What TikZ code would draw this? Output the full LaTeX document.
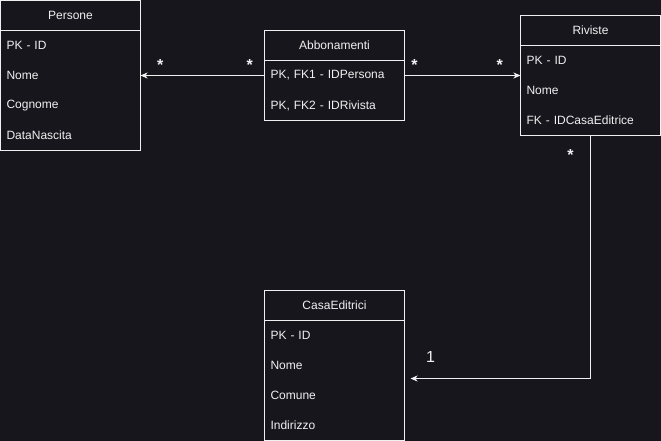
\documentclass[tikz,border=0pt]{standalone}
\usepackage{fontspec}
\setmainfont{Liberation Sans}
\usetikzlibrary{positioning,arrows.meta}
\definecolor{bgdark}{RGB}{24,22,29}
\definecolor{fg}{RGB}{240,240,240}

\begin{document}
\begin{tikzpicture}[x=1pt, y=-1pt, line width=1pt,
		head/.style={draw=fg, text=fg, anchor=north west, minimum width=140pt, minimum height=30pt,
			inner sep=0pt, outer sep=0pt, font=\fontsize{12}{14}\selectfont},
		field/.style={text=fg, minimum width=140pt, minimum height=30pt, text width=128pt,
			inner xsep=6pt, inner ysep=0pt, outer sep=0pt, align=left, font=\fontsize{12}{14}\selectfont},
		rel/.style={draw=fg, -{Stealth[length=7pt, width=6pt, inset=2pt]}},
		mult/.style={text=fg, anchor=base, inner sep=0pt, font=\fontsize{16}{18}\selectfont\bfseries},
		card/.style={text=fg, anchor=base, inner sep=0pt, font=\fontsize{16}{18}\selectfont}]
		\useasboundingbox (0,0) rectangle (661,441);
		\fill[bgdark] (0,0) rectangle (661,441);

		\node[head] (pers) at (0.5,0.5) {Persone};
		\node[field, below=0pt of pers] (pers1) {PK - ID};
		\node[field, below=0pt of pers1] (pers2) {Nome};
		\node[field, below=0pt of pers2] (pers3) {Cognome};
		\node[field, below=0pt of pers3] (pers4) {DataNascita};
		\draw[fg] (pers.south west) rectangle (pers4.south east);

		\node[head] (abb) at (264.5,30.5) {Abbonamenti};
		\node[field, below=0pt of abb] (abb1) {PK, FK1 - IDPersona};
		\node[field, below=0pt of abb1] (abb2) {PK, FK2 - IDRivista};
		\draw[fg] (abb.south west) rectangle (abb2.south east);

		\node[head] (riv) at (520.5,15.5) {Riviste};
		\node[field, below=0pt of riv] (riv1) {PK - ID};
		\node[field, below=0pt of riv1] (riv2) {Nome};
		\node[field, below=0pt of riv2] (riv3) {FK - IDCasaEditrice};
		\draw[fg] (riv.south west) rectangle (riv3.south east);

		\node[head] (casa) at (264.5,290.5) {CasaEditrici};
		\node[field, below=0pt of casa] (casa1) {PK - ID};
		\node[field, below=0pt of casa1] (casa2) {Nome};
		\node[field, below=0pt of casa2] (casa3) {Comune};
		\node[field, below=0pt of casa3] (casa4) {Indirizzo};
		\draw[fg] (casa.south west) rectangle (casa4.south east);

		\coordinate (casain) at ([xshift=6pt, yshift=2pt]casa2.south east);

		\draw[rel] (abb1.west) -- (pers2.east)
			node[mult, pos=0.12, yshift=5pt]{*}
			node[mult, pos=0.84, yshift=5pt]{*};
		\draw[rel] (abb1.east) -- (riv1.south west)
			node[mult, pos=0.085, yshift=5pt]{*}
			node[mult, pos=0.82, yshift=5pt]{*};
		\draw[rel] (riv3.south) |- (casain)
			node[mult, pos=0.052, xshift=-20pt]{*}
			node[card, pos=0.944, yshift=15.8pt]{1};
	\end{tikzpicture}
\end{document}
